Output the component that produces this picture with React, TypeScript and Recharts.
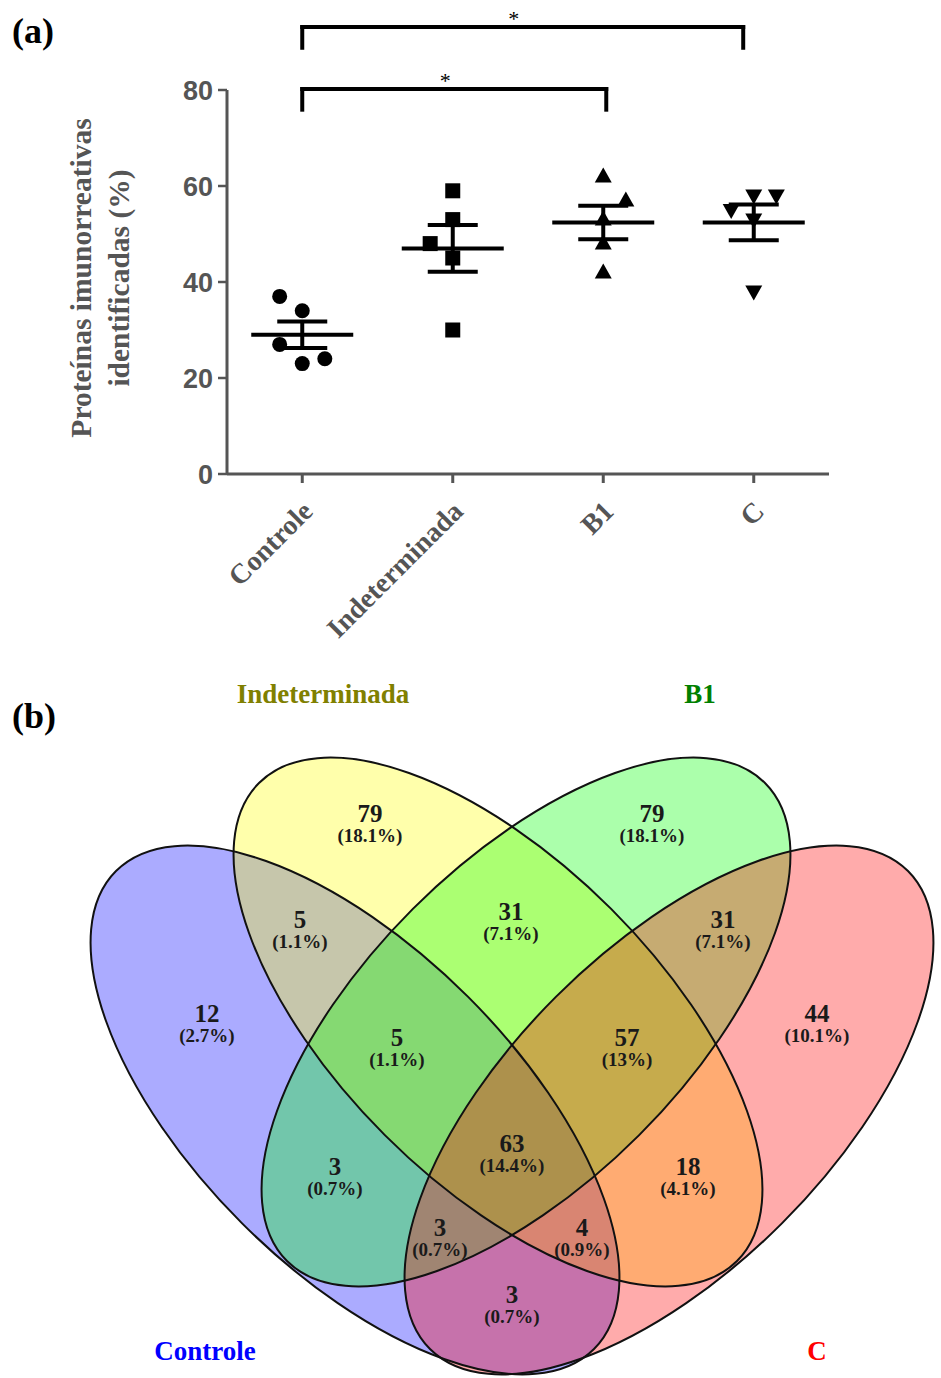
import React from 'react';
import { ScatterChart, Scatter, XAxis, YAxis, ErrorBar, ReferenceLine, ReferenceDot } from 'recharts';

const SERIF = '"Liberation Serif", "Times New Roman", serif';
const SANS = '"Liberation Sans", Arial, sans-serif';

// (a) proteínas imunorreativas identificadas (%)
const groups = ['Controle', 'Indeterminada', 'B1', 'C'];
const controleValues = [37, 34, 27, 23, 24];
const indeterminadaValues = [59, 53, 48, 45, 30];
const b1Values = [62, 57, 53, 48, 42];
const cValues = [58, 58, 55, 53, 38];
// horizontal spread of the dots inside a column (category units)
const controleJitter = [-0.15, 0, -0.15, 0, 0.15];
const indeterminadaJitter = [0, 0, -0.15, 0, 0];
const b1Jitter = [0, 0.15, 0, 0, 0];
const cJitter = [0, 0.15, -0.15, 0, 0];
const yTicks = [0, 20, 40, 60, 80];

// significance brackets
const bracketFrom = [1, 1];
const bracketTo = [3.02, 3.93];
const bracketLevel = [80.2, 93.1];
const bracketLabel = ['*', '*'];
const BRACKET_DROP = 4.3;

// (b) Venn
const setNames = ['Controle', 'Indeterminada', 'B1', 'C'];
const regionKeys = ['A', 'B', 'C', 'D', 'AB', 'BC', 'CD', 'ABC', 'BCD', 'ABCD', 'AC', 'BD', 'ACD', 'ABD', 'AD'];
const regionCounts = [12, 79, 79, 44, 5, 31, 31, 5, 57, 63, 3, 18, 3, 4, 3];

// layout of the Venn (page pixels)
const ELLIPSE_CENTERS = [[355, 1110], [498, 1022], [526, 1022], [669, 1110]];
const ELLIPSE_ANGLES = [45, 45, -45, -45];
const RX = 338;
const RY = 160;
const SET_FILLS = ['#0000ff', '#ffff00', '#00ff00', '#ff0000'];
const TITLE_COLORS = ['#0000ff', '#808000', '#008000', '#ff0000'];
const TITLE_POS = [[205, 1360], [323, 703], [700, 703], [817, 1360]];
const REGION_POS: Record<string, number[]> = {
  A: [207, 1022], B: [370, 822], C: [652, 822], D: [817, 1022],
  AB: [300, 928], BC: [511, 920], CD: [723, 928],
  ABC: [397, 1046], BCD: [627, 1046], ABCD: [512, 1152],
  AC: [335, 1175], BD: [688, 1175], ACD: [440, 1236], ABD: [582, 1236], AD: [512, 1303],
};

const mean = (v: number[]) => v.reduce((s, x) => s + x, 0) / v.length;
const sem = (v: number[]) => {
  const m = mean(v);
  const sd = Math.sqrt(v.reduce((s, x) => s + (x - m) ** 2, 0) / (v.length - 1));
  return sd / Math.sqrt(v.length);
};

const groupValues = [controleValues, indeterminadaValues, b1Values, cValues];
const groupJitter = [controleJitter, indeterminadaJitter, b1Jitter, cJitter];
const points = groupValues.map((vals, g) => vals.map((v, i) => ({ x: g + 1 + groupJitter[g][i], y: v })));
const meanData = groupValues.map((vals, g) => ({ x: g + 1, y: mean(vals), err: sem(vals) }));

const total = regionCounts.reduce((s, x) => s + x, 0);
const fmtPct = (n: number) => `(${Math.round((n / total) * 1000) / 10}%)`;
const regionData = regionKeys.map((k, i) => ({
  x: REGION_POS[k][0], y: REGION_POS[k][1], count: regionCounts[i], pct: fmtPct(regionCounts[i]),
}));
const ellipseData = setNames.map((name, i) => ({
  name, x: ELLIPSE_CENTERS[i][0], y: ELLIPSE_CENTERS[i][1], angle: ELLIPSE_ANGLES[i], color: SET_FILLS[i],
}));
const titleData = setNames.map((name, i) => ({ name, x: TITLE_POS[i][0], y: TITLE_POS[i][1], color: TITLE_COLORS[i] }));

const Circle = (p: any) => <circle cx={p.cx} cy={p.cy} r={7.5} fill="#000" />;
const Square = (p: any) => <rect x={p.cx - 7.5} y={p.cy - 7.5} width={15} height={15} fill="#000" />;
const TriUp = (p: any) => (
  <polygon points={`${p.cx},${p.cy - 9} ${p.cx - 8.5},${p.cy + 6} ${p.cx + 8.5},${p.cy + 6}`} fill="#000" />
);
const TriDown = (p: any) => (
  <polygon points={`${p.cx},${p.cy + 9} ${p.cx - 8.5},${p.cy - 6} ${p.cx + 8.5},${p.cy - 6}`} fill="#000" />
);
const shapes = [Circle, Square, TriUp, TriDown];
const MeanLine = (p: any) => <line x1={p.cx - 51} x2={p.cx + 51} y1={p.cy} y2={p.cy} stroke="#000" strokeWidth={4} />;

const GroupTick = (p: any) => {
  const tx = p.x + 12;
  const ty = p.y + 28;
  return (
    <text x={tx} y={ty} transform={`rotate(-45 ${tx} ${ty})`} textAnchor="end"
      fontFamily={SERIF} fontWeight="bold" fontSize={28} fill="#555">
      {groups[p.payload.value - 1]}
    </text>
  );
};

const YLabel = (p: any) => {
  const vb = p.viewBox;
  const cy = vb.y + vb.height / 2 - 4;
  const x1 = vb.x - 36;
  const x2 = vb.x + 2;
  const style = { fontFamily: SERIF, fontWeight: 'bold' as const, fontSize: 29.5, fill: '#555' };
  return (
    <g>
      <text x={x1} y={cy} transform={`rotate(-90 ${x1} ${cy})`} textAnchor="middle" {...style}>
        Proteínas imunorreativas
      </text>
      <text x={x2} y={cy} transform={`rotate(-90 ${x2} ${cy})`} textAnchor="middle" {...style}>
        identificadas (%)
      </text>
    </g>
  );
};

const StarLabel = (p: any) => {
  const vb = p.viewBox;
  return (
    <text x={vb.x + vb.width / 2 - 9} y={vb.y + vb.height / 2 - 1.5} textAnchor="middle"
      fontFamily={SERIF} fontSize={22} fill="#000">
      {p.value}
    </text>
  );
};

const EllipseFill = (p: any) => (
  <ellipse cx={p.cx} cy={p.cy} rx={RX} ry={RY} transform={`rotate(${p.payload.angle} ${p.cx} ${p.cy})`}
    fill={p.payload.color} fillOpacity={0.33} stroke="none" />
);
const EllipseOutline = (p: any) => (
  <ellipse cx={p.cx} cy={p.cy} rx={RX} ry={RY} transform={`rotate(${p.payload.angle} ${p.cx} ${p.cy})`}
    fill="none" stroke="#111" strokeWidth={2} />
);
const RegionLabel = (p: any) => (
  <g fontFamily={SERIF} fontWeight="bold" fill="#1a1a1a" textAnchor="middle">
    <text x={p.cx} y={p.cy} fontSize={25}>{p.payload.count}</text>
    <text x={p.cx} y={p.cy + 20} fontSize={19}>{p.payload.pct}</text>
  </g>
);
const SetTitle = (p: any) => (
  <text x={p.cx} y={p.cy} textAnchor="middle" fontFamily={SERIF} fontWeight="bold" fontSize={27} fill={p.payload.color}>
    {p.payload.name}
  </text>
);

export default function App() {
  return (
    <div style={{ position: 'relative', width: 941, height: 1378, background: '#fff' }}>
      <style>{'body{margin:0}'}</style>
      <ScatterChart width={941} height={650} margin={{ top: 90, right: 112, left: 127, bottom: 26 }}>
        <XAxis type="number" dataKey="x" domain={[0.5, 4.5]} ticks={[1, 2, 3, 4]} height={150}
          axisLine={{ stroke: '#555', strokeWidth: 3 }} tickLine={{ stroke: '#555', strokeWidth: 3 }}
          tickSize={9} tick={<GroupTick />} interval={0} />
        <YAxis type="number" dataKey="y" domain={[0, 80]} ticks={yTicks} width={100}
          axisLine={{ stroke: '#555', strokeWidth: 3 }} tickLine={{ stroke: '#555', strokeWidth: 2.5 }}
          tickSize={9} tickMargin={5}
          tick={{ fill: '#555', fontSize: 27, fontWeight: 700, fontFamily: SANS }}
          label={{ content: (p: any) => <YLabel {...p} /> }} />
        {points.map((d, g) => (
          <Scatter key={groups[g]} name={groups[g]} data={d} shape={shapes[g]} isAnimationActive={false} />
        ))}
        <Scatter name="média" data={meanData} shape={MeanLine} isAnimationActive={false}>
          <ErrorBar dataKey="err" direction="y" width={25} stroke="#000" strokeWidth={4} />
        </Scatter>
        {bracketFrom.map((from, i) => {
          const to = bracketTo[i];
          const lv = bracketLevel[i];
          const common = { stroke: '#000', strokeWidth: 4, ifOverflow: 'visible' as const, strokeLinecap: 'square' as const };
          return [
            <ReferenceLine key={`h${i}`} segment={[{ x: from, y: lv }, { x: to, y: lv }]} {...common} />,
            <ReferenceLine key={`l${i}`} segment={[{ x: from, y: lv }, { x: from, y: lv - BRACKET_DROP }]} {...common} />,
            <ReferenceLine key={`r${i}`} segment={[{ x: to, y: lv }, { x: to, y: lv - BRACKET_DROP }]} {...common} />,
            <ReferenceDot key={`s${i}`} x={(from + to) / 2} y={lv} r={1} fill="none" stroke="none" ifOverflow="visible"
              label={{ value: bracketLabel[i], content: (p: any) => <StarLabel {...p} value={bracketLabel[i]} /> }} />,
          ];
        })}
      </ScatterChart>
      <ScatterChart width={941} height={728} margin={{ top: 0, right: 0, left: 0, bottom: 0 }}>
        <XAxis type="number" dataKey="x" domain={[0, 941]} hide />
        <YAxis type="number" dataKey="y" domain={[650, 1378]} reversed hide />
        <Scatter name="conjuntos" data={ellipseData} shape={EllipseFill} isAnimationActive={false} />
        <Scatter name="contornos" data={ellipseData} shape={EllipseOutline} isAnimationActive={false} />
        <Scatter name="regiões" data={regionData} shape={RegionLabel} isAnimationActive={false} />
        <Scatter name="títulos" data={titleData} shape={SetTitle} isAnimationActive={false} />
      </ScatterChart>
      <svg width={941} height={1378} style={{ position: 'absolute', left: 0, top: 0, pointerEvents: 'none' }}>
        <text x={12} y={43} fontFamily={SERIF} fontWeight="bold" fontSize={36} fill="#000">(a)</text>
        <text x={12} y={728} fontFamily={SERIF} fontWeight="bold" fontSize={36} fill="#000">(b)</text>
      </svg>
    </div>
  );
}
